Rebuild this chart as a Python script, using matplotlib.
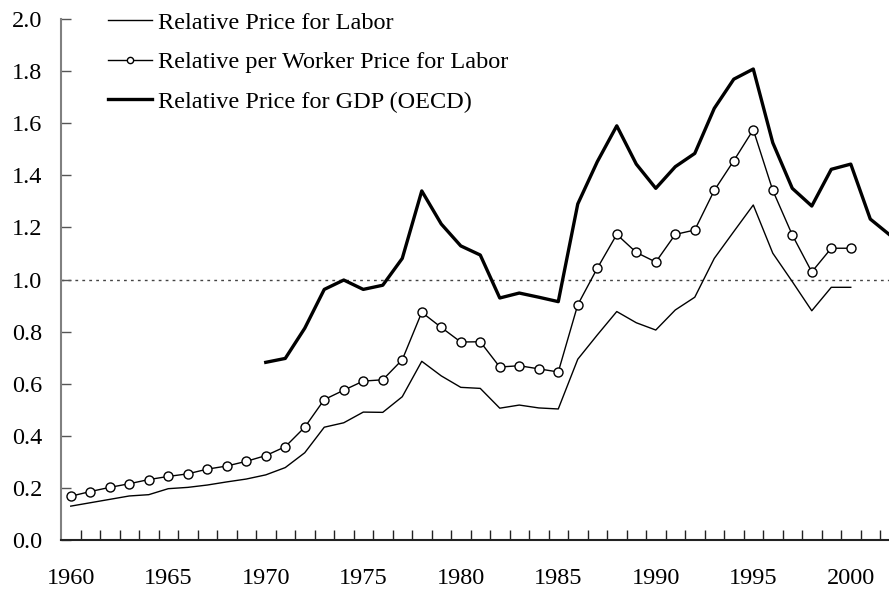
import matplotlib
matplotlib.use("Agg")
import matplotlib.pyplot as plt
from matplotlib.lines import Line2D
import numpy as np

plt.rcParams['font.family'] = ['Liberation Serif', 'DejaVu Serif']

years_labor = list(range(1960, 2001))
price_labor = [0.130, 0.143, 0.156, 0.169, 0.174, 0.197, 0.202, 0.211, 0.223, 0.234,
               0.250, 0.278, 0.335, 0.433, 0.450, 0.491, 0.490, 0.550, 0.686, 0.630,
               0.586, 0.582, 0.506, 0.518, 0.507, 0.503, 0.694, 0.787, 0.877, 0.834,
               0.806, 0.883, 0.932, 1.081, 1.184, 1.286, 1.101, 0.992, 0.880, 0.970,
               0.970]
per_worker = [0.168, 0.186, 0.202, 0.216, 0.232, 0.244, 0.254, 0.272, 0.284, 0.302,
              0.324, 0.358, 0.433, 0.539, 0.575, 0.610, 0.615, 0.692, 0.874, 0.816,
              0.760, 0.761, 0.664, 0.669, 0.657, 0.645, 0.903, 1.043, 1.173, 1.104,
              1.067, 1.173, 1.190, 1.342, 1.456, 1.575, 1.342, 1.171, 1.029, 1.120,
              1.120]
years_gdp = list(range(1970, 2003))
price_gdp = [0.682, 0.697, 0.813, 0.962, 0.998, 0.962, 0.978, 1.081, 1.340, 1.213,
             1.129, 1.094, 0.929, 0.948, 0.932, 0.915, 1.290, 1.452, 1.590, 1.443,
             1.350, 1.433, 1.484, 1.657, 1.769, 1.808, 1.525, 1.350, 1.282, 1.423,
             1.443, 1.232, 1.171]

labels = ["Relative Price for Labor", "Relative per Worker Price for Labor",
          "Relative Price for GDP (OECD)"]
ytick_vals = [0.0, 0.2, 0.4, 0.6, 0.8, 1.0, 1.2, 1.4, 1.6, 1.8, 2.0]
xtick_years = [1960, 1965, 1970, 1975, 1980, 1985, 1990, 1995, 2000]

FS = 17.5

fig = plt.figure(figsize=(8.89, 5.92), dpi=100)
ax = fig.add_axes([61/889, 52/592, 1 - 61/889, (540-19)/592])

ax.axhline(1.0, color='#444444', lw=1.0, ls=(0, (2, 3)), zorder=1)
ax.plot(years_labor, price_labor, color='black', lw=1.0, zorder=3)
ax.plot(years_labor, per_worker, color='black', lw=1.0, marker='o', ms=6.5,
        mfc='white', mec='black', mew=1.0, zorder=4)
ax.plot(years_gdp, price_gdp, color='black', lw=2.4, zorder=3)

ax.set_xlim(1959.5, 2001.96)
ax.set_ylim(0, 2.0)

ax.spines['top'].set_visible(False)
ax.spines['right'].set_visible(False)
ax.spines['left'].set_color('#808080')
ax.spines['left'].set_linewidth(1.5)
ax.spines['bottom'].set_color('#222222')
ax.spines['bottom'].set_linewidth(1.5)

ax.set_yticks(ytick_vals)
ax.set_yticklabels([f"{v:.1f}" for v in ytick_vals])
ax.tick_params(axis='y', direction='in', length=7, width=1.0, color='#555555',
               labelsize=FS, pad=13.5)
ax.set_xticks(xtick_years)
ax.set_xticklabels([str(y) for y in xtick_years])
ax.tick_params(axis='x', which='major', length=0, labelsize=FS, pad=20)
ax.set_xticks(np.arange(1960.5, 2002, 1.0), minor=True)
ax.tick_params(axis='x', which='minor', direction='in', length=7, width=1.0,
               color='#222222')

handles = [Line2D([], [], color='black', lw=1.0),
           Line2D([], [], color='black', lw=1.0, marker='o', ms=4.5, mfc='white',
                  mec='black', mew=1.0),
           Line2D([], [], color='black', lw=2.4)]
leg = ax.legend(handles, labels, loc='upper left', bbox_to_anchor=(47/828, 1.014),
                frameon=False, fontsize=FS, handlelength=1.8, handletextpad=0.25,
                labelspacing=0.72, borderaxespad=0, borderpad=0)

fig.savefig("out.png", dpi=100)
